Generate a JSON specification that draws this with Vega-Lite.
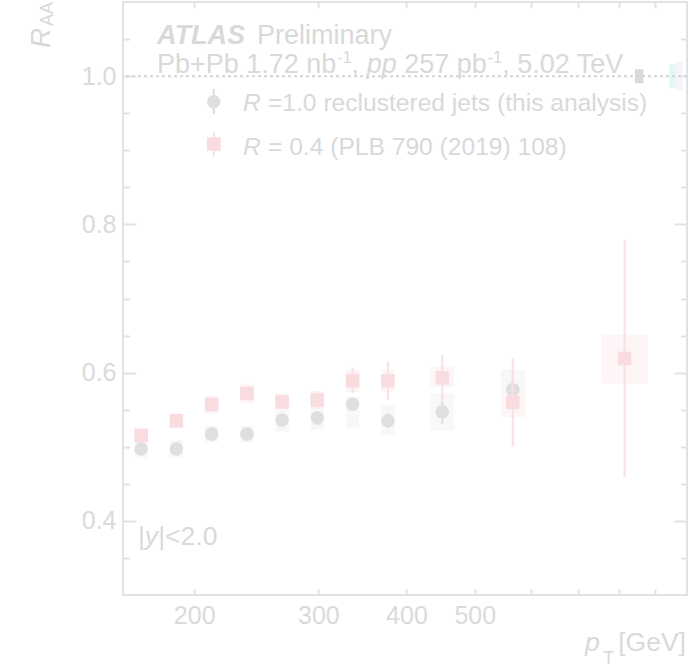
{
  "$schema": "https://vega.github.io/schema/vega-lite/v6.json",
  "width": 564,
  "height": 593,
  "autosize": {"type": "none"},
  "padding": {"left": 123, "top": 2, "right": 3, "bottom": 73},
  "background": "white",
  "config": {
    "view": {"stroke": "#e2e2e2", "strokeWidth": 2},
    "axis": {
      "domain": false,
      "grid": false,
      "labelFont": "Liberation Sans",
      "labelFontSize": 25,
      "labelColor": "#dadada",
      "tickColor": "#e2e2e2",
      "tickWidth": 2,
      "labelFlush": false,
      "labelOverlap": false
    },
    "text": {"font": "Liberation Sans", "color": "#d9d9d9", "align": "left", "baseline": "alphabetic"}
  },
  "datasets": {
    "reclustered": [
      {"pt": 168.2, "blo": 164.66, "bhi": 171.82, "raa": 0.497, "elo": 0.493, "ehi": 0.501, "slo": 0.485, "shi": 0.509},
      {"pt": 188.7, "blo": 184.73, "bhi": 192.76, "raa": 0.497, "elo": 0.493, "ehi": 0.501, "slo": 0.485, "shi": 0.509},
      {"pt": 211.7, "blo": 207.24, "bhi": 216.25, "raa": 0.517, "elo": 0.513, "ehi": 0.521, "slo": 0.506, "shi": 0.528},
      {"pt": 237.6, "blo": 232.6, "bhi": 242.71, "raa": 0.517, "elo": 0.513, "ehi": 0.521, "slo": 0.506, "shi": 0.528},
      {"pt": 266.5, "blo": 260.89, "bhi": 272.23, "raa": 0.536, "elo": 0.532, "ehi": 0.54, "slo": 0.52, "shi": 0.552},
      {"pt": 299.0, "blo": 292.71, "bhi": 305.43, "raa": 0.539, "elo": 0.535, "ehi": 0.543, "slo": 0.523, "shi": 0.552},
      {"pt": 335.5, "blo": 328.44, "bhi": 342.71, "raa": 0.5575, "elo": 0.553, "ehi": 0.562, "slo": 0.526, "shi": 0.567},
      {"pt": 376.5, "blo": 368.58, "bhi": 384.59, "raa": 0.535, "elo": 0.525, "ehi": 0.545, "slo": 0.516, "shi": 0.556},
      {"pt": 449.6, "blo": 432.31, "bhi": 467.58, "raa": 0.547, "elo": 0.531, "ehi": 0.561, "slo": 0.522, "shi": 0.572},
      {"pt": 566.1, "blo": 544.33, "bhi": 588.74, "raa": 0.577, "elo": 0.557, "ehi": 0.597, "slo": 0.547, "shi": 0.604}
    ],
    "r04": [
      {"pt": 168.2, "blo": 164.66, "bhi": 171.82, "raa": 0.515, "elo": 0.511, "ehi": 0.519, "slo": 0.505, "shi": 0.525},
      {"pt": 188.7, "blo": 184.73, "bhi": 192.76, "raa": 0.535, "elo": 0.531, "ehi": 0.539, "slo": 0.525, "shi": 0.545},
      {"pt": 211.7, "blo": 207.24, "bhi": 216.25, "raa": 0.557, "elo": 0.553, "ehi": 0.561, "slo": 0.545, "shi": 0.569},
      {"pt": 237.6, "blo": 232.6, "bhi": 242.71, "raa": 0.572, "elo": 0.568, "ehi": 0.576, "slo": 0.559, "shi": 0.585},
      {"pt": 266.5, "blo": 260.89, "bhi": 272.23, "raa": 0.5605, "elo": 0.556, "ehi": 0.565, "slo": 0.549, "shi": 0.572},
      {"pt": 299.0, "blo": 292.71, "bhi": 305.43, "raa": 0.563, "elo": 0.551, "ehi": 0.575, "slo": 0.551, "shi": 0.575},
      {"pt": 335.5, "blo": 328.44, "bhi": 342.71, "raa": 0.589, "elo": 0.572, "ehi": 0.607, "slo": 0.574, "shi": 0.604},
      {"pt": 376.5, "blo": 368.58, "bhi": 384.59, "raa": 0.589, "elo": 0.563, "ehi": 0.615, "slo": 0.574, "shi": 0.604},
      {"pt": 449.6, "blo": 432.31, "bhi": 467.58, "raa": 0.593, "elo": 0.561, "ehi": 0.624, "slo": 0.581, "shi": 0.608},
      {"pt": 566.1, "blo": 544.33, "bhi": 588.74, "raa": 0.56, "elo": 0.5, "ehi": 0.619, "slo": 0.54, "shi": 0.576},
      {"pt": 815.5, "blo": 755.79, "bhi": 879.93, "raa": 0.619, "elo": 0.459, "ehi": 0.779, "slo": 0.585, "shi": 0.651}
    ],
    "normalisation": [
      {"source": "R=1.0 normalisation", "lo": 843.8, "hi": 866.9, "ylo": 0.9904, "yhi": 1.0093},
      {"source": "TAA", "lo": 944.0, "hi": 965.0, "ylo": 0.9836, "yhi": 1.0164},
      {"source": "luminosity", "lo": 965.0, "hi": 986.1, "ylo": 0.9813, "yhi": 1.0195}
    ],
    "legend": [
      {"series": "R=1.0", "pt": 213.2, "raa": 0.9655, "elo": 0.9489, "ehi": 0.9826},
      {"series": "R=0.4", "pt": 213.2, "raa": 0.9084, "elo": 0.8913, "ehi": 0.925}
    ]
  },
  "resolve": {"axis": {"x": "independent", "y": "independent"}},
  "layer": [
    {
      "data": {"name": "normalisation"},
      "mark": {"type": "rect"},
      "encoding": {
        "x": {"field": "lo", "type": "quantitative", "scale": {"type": "log", "domain": [158.5, 1000], "nice": false}, "axis": null},
        "x2": {"field": "hi"},
        "y": {"field": "ylo", "type": "quantitative", "scale": {"domain": [0.3, 1.1], "nice": false, "zero": false}, "axis": null},
        "y2": {"field": "yhi"},
        "color": {"field": "source", "type": "nominal", "scale": {"domain": ["R=1.0 normalisation", "TAA", "luminosity"], "range": ["#dadada", "#e3f7f7", "#f5f3fc"]}, "legend": null}
      }
    },
    {
      "data": {"values": [{}]},
      "mark": {"type": "rule", "color": "#d4d4d4", "strokeWidth": 2, "strokeDash": [3, 3]},
      "encoding": {
        "y": {"datum": 1.0, "type": "quantitative", "scale": {"domain": [0.3, 1.1], "nice": false, "zero": false}, "axis": null}
      }
    },
    {
      "data": {"name": "reclustered"},
      "mark": {"type": "rect", "color": "#f8f8f8"},
      "encoding": {
        "x": {"field": "blo", "type": "quantitative", "scale": {"type": "log", "domain": [158.5, 1000], "nice": false},
              "axis": {"orient": "bottom", "values": [200, 300, 400, 500, 600, 700, 800, 900], "tickSize": -6, "labelPadding": 14,
                       "labelExpr": "datum.value <= 500 ? format(datum.value, 'd') : ''", "title": null}},
        "x2": {"field": "bhi"},
        "y": {"field": "slo", "type": "quantitative", "scale": {"domain": [0.3, 1.1], "nice": false, "zero": false},
              "axis": {"orient": "left", "values": [0.4, 0.6, 0.8, 1.0], "tickSize": -13, "labelPadding": 20, "format": ".1f", "title": null}},
        "y2": {"field": "shi"}
      }
    },
    {
      "data": {"name": "r04"},
      "mark": {"type": "rect", "color": "#fdf5f6"},
      "encoding": {
        "x": {"field": "blo", "type": "quantitative", "scale": {"type": "log", "domain": [158.5, 1000], "nice": false},
              "axis": {"orient": "top", "values": [200, 300, 400, 500, 600, 700, 800, 900], "tickSize": -6, "labels": false, "title": null}},
        "x2": {"field": "bhi"},
        "y": {"field": "slo", "type": "quantitative", "scale": {"domain": [0.3, 1.1], "nice": false, "zero": false},
              "axis": {"orient": "right", "values": [0.4, 0.6, 0.8, 1.0], "tickSize": -13, "labels": false, "title": null}},
        "y2": {"field": "shi"}
      }
    },
    {
      "data": {"name": "reclustered"},
      "mark": {"type": "rule", "color": "#dcdcdc", "strokeWidth": 2},
      "encoding": {
        "x": {"field": "pt", "type": "quantitative", "scale": {"type": "log", "domain": [158.5, 1000], "nice": false}, "axis": null},
        "y": {"field": "elo", "type": "quantitative", "scale": {"domain": [0.3, 1.1], "nice": false, "zero": false},
              "axis": {"orient": "left", "values": [0.35, 0.45, 0.5, 0.55, 0.65, 0.7, 0.75, 0.85, 0.9, 0.95, 1.05], "tickSize": -6.5, "labels": false, "title": null}},
        "y2": {"field": "ehi"}
      }
    },
    {
      "data": {"name": "reclustered"},
      "mark": {"type": "point", "shape": "circle", "filled": true, "size": 185, "color": "#dfdfdf", "opacity": 1},
      "encoding": {
        "x": {"field": "pt", "type": "quantitative", "scale": {"type": "log", "domain": [158.5, 1000], "nice": false}, "axis": null},
        "y": {"field": "raa", "type": "quantitative", "scale": {"domain": [0.3, 1.1], "nice": false, "zero": false}, "axis": null}
      }
    },
    {
      "data": {"name": "r04"},
      "mark": {"type": "rule", "color": "#f8e0e3", "strokeWidth": 2},
      "encoding": {
        "x": {"field": "pt", "type": "quantitative", "scale": {"type": "log", "domain": [158.5, 1000], "nice": false}, "axis": null},
        "y": {"field": "elo", "type": "quantitative", "scale": {"domain": [0.3, 1.1], "nice": false, "zero": false},
              "axis": {"orient": "right", "values": [0.35, 0.45, 0.5, 0.55, 0.65, 0.7, 0.75, 0.85, 0.9, 0.95, 1.05], "tickSize": -6.5, "labels": false, "title": null}},
        "y2": {"field": "ehi"}
      }
    },
    {
      "data": {"name": "r04"},
      "mark": {"type": "point", "shape": "square", "filled": true, "size": 185, "color": "#f9dcdf", "opacity": 1},
      "encoding": {
        "x": {"field": "pt", "type": "quantitative", "scale": {"type": "log", "domain": [158.5, 1000], "nice": false}, "axis": null},
        "y": {"field": "raa", "type": "quantitative", "scale": {"domain": [0.3, 1.1], "nice": false, "zero": false}, "axis": null}
      }
    },
    {
      "data": {"name": "legend"},
      "transform": [{"filter": "datum.series == 'R=1.0'"}],
      "mark": {"type": "rule", "color": "#dcdcdc", "strokeWidth": 2},
      "encoding": {
        "x": {"field": "pt", "type": "quantitative", "scale": {"type": "log", "domain": [158.5, 1000], "nice": false}, "axis": null},
        "y": {"field": "elo", "type": "quantitative", "scale": {"domain": [0.3, 1.1], "nice": false, "zero": false}, "axis": null},
        "y2": {"field": "ehi"}
      }
    },
    {
      "data": {"name": "legend"},
      "transform": [{"filter": "datum.series == 'R=1.0'"}],
      "mark": {"type": "point", "shape": "circle", "filled": true, "size": 185, "color": "#dfdfdf", "opacity": 1},
      "encoding": {
        "x": {"field": "pt", "type": "quantitative", "scale": {"type": "log", "domain": [158.5, 1000], "nice": false}, "axis": null},
        "y": {"field": "raa", "type": "quantitative", "scale": {"domain": [0.3, 1.1], "nice": false, "zero": false}, "axis": null}
      }
    },
    {
      "data": {"name": "legend"},
      "transform": [{"filter": "datum.series == 'R=0.4'"}],
      "mark": {"type": "rule", "color": "#f8e0e3", "strokeWidth": 2},
      "encoding": {
        "x": {"field": "pt", "type": "quantitative", "scale": {"type": "log", "domain": [158.5, 1000], "nice": false}, "axis": null},
        "y": {"field": "elo", "type": "quantitative", "scale": {"domain": [0.3, 1.1], "nice": false, "zero": false}, "axis": null},
        "y2": {"field": "ehi"}
      }
    },
    {
      "data": {"name": "legend"},
      "transform": [{"filter": "datum.series == 'R=0.4'"}],
      "mark": {"type": "point", "shape": "square", "filled": true, "size": 185, "color": "#f9dcdf", "opacity": 1},
      "encoding": {
        "x": {"field": "pt", "type": "quantitative", "scale": {"type": "log", "domain": [158.5, 1000], "nice": false}, "axis": null},
        "y": {"field": "raa", "type": "quantitative", "scale": {"domain": [0.3, 1.1], "nice": false, "zero": false}, "axis": null}
      }
    },
    {
      "data": {"values": [{}]},
      "mark": {"type": "text", "text": "ATLAS", "fontSize": 27, "fontWeight": "bold", "fontStyle": "italic"},
      "encoding": {
        "x": {"datum": 177.06, "type": "quantitative", "scale": {"type": "log", "domain": [158.5, 1000], "nice": false}, "axis": null},
        "y": {"datum": 1.0433, "type": "quantitative", "scale": {"domain": [0.3, 1.1], "nice": false, "zero": false}, "axis": null}
      }
    },
    {
      "data": {"values": [{}]},
      "mark": {"type": "text", "text": "Preliminary", "fontSize": 27},
      "encoding": {
        "x": {"datum": 245.5, "type": "quantitative", "scale": {"type": "log", "domain": [158.5, 1000], "nice": false}, "axis": null},
        "y": {"datum": 1.0433, "type": "quantitative", "scale": {"domain": [0.3, 1.1], "nice": false, "zero": false}, "axis": null}
      }
    },
    {
      "data": {"values": [{}]},
      "mark": {"type": "text", "text": "Pb+Pb 1.72 nb", "fontSize": 27},
      "encoding": {
        "x": {"datum": 177.06, "type": "quantitative", "scale": {"type": "log", "domain": [158.5, 1000], "nice": false}, "axis": null},
        "y": {"datum": 1.0042, "type": "quantitative", "scale": {"domain": [0.3, 1.1], "nice": false, "zero": false}, "axis": null}
      }
    },
    {
      "data": {"values": [{}]},
      "mark": {"type": "text", "text": "-1", "fontSize": 16.5},
      "encoding": {
        "x": {"datum": 318.8, "type": "quantitative", "scale": {"type": "log", "domain": [158.5, 1000], "nice": false}, "axis": null},
        "y": {"datum": 1.0172, "type": "quantitative", "scale": {"domain": [0.3, 1.1], "nice": false, "zero": false}, "axis": null}
      }
    },
    {
      "data": {"values": [{}]},
      "mark": {"type": "text", "text": ",", "fontSize": 27},
      "encoding": {
        "x": {"datum": 334.4, "type": "quantitative", "scale": {"type": "log", "domain": [158.5, 1000], "nice": false}, "axis": null},
        "y": {"datum": 1.0042, "type": "quantitative", "scale": {"domain": [0.3, 1.1], "nice": false, "zero": false}, "axis": null}
      }
    },
    {
      "data": {"values": [{}]},
      "mark": {"type": "text", "text": "pp", "fontSize": 27, "fontStyle": "italic"},
      "encoding": {
        "x": {"datum": 351.3, "type": "quantitative", "scale": {"type": "log", "domain": [158.5, 1000], "nice": false}, "axis": null},
        "y": {"datum": 1.0042, "type": "quantitative", "scale": {"domain": [0.3, 1.1], "nice": false, "zero": false}, "axis": null}
      }
    },
    {
      "data": {"values": [{}]},
      "mark": {"type": "text", "text": "257 pb", "fontSize": 27},
      "encoding": {
        "x": {"datum": 397.0, "type": "quantitative", "scale": {"type": "log", "domain": [158.5, 1000], "nice": false}, "axis": null},
        "y": {"datum": 1.0042, "type": "quantitative", "scale": {"domain": [0.3, 1.1], "nice": false, "zero": false}, "axis": null}
      }
    },
    {
      "data": {"values": [{}]},
      "mark": {"type": "text", "text": "-1", "fontSize": 16.5},
      "encoding": {
        "x": {"datum": 521.3, "type": "quantitative", "scale": {"type": "log", "domain": [158.5, 1000], "nice": false}, "axis": null},
        "y": {"datum": 1.0172, "type": "quantitative", "scale": {"domain": [0.3, 1.1], "nice": false, "zero": false}, "axis": null}
      }
    },
    {
      "data": {"values": [{}]},
      "mark": {"type": "text", "text": ", 5.02 TeV", "fontSize": 27},
      "encoding": {
        "x": {"datum": 546.9, "type": "quantitative", "scale": {"type": "log", "domain": [158.5, 1000], "nice": false}, "axis": null},
        "y": {"datum": 1.0042, "type": "quantitative", "scale": {"domain": [0.3, 1.1], "nice": false, "zero": false}, "axis": null}
      }
    },
    {
      "data": {"values": [{}]},
      "mark": {"type": "text", "text": "R", "fontSize": 24.6, "fontStyle": "italic"},
      "encoding": {
        "x": {"datum": 234.6, "type": "quantitative", "scale": {"type": "log", "domain": [158.5, 1000], "nice": false}, "axis": null},
        "y": {"datum": 0.953, "type": "quantitative", "scale": {"domain": [0.3, 1.1], "nice": false, "zero": false}, "axis": null}
      }
    },
    {
      "data": {"values": [{}]},
      "mark": {"type": "text", "text": "=1.0 reclustered jets (this analysis)", "fontSize": 24.6},
      "encoding": {
        "x": {"datum": 254.5, "type": "quantitative", "scale": {"type": "log", "domain": [158.5, 1000], "nice": false}, "axis": null},
        "y": {"datum": 0.953, "type": "quantitative", "scale": {"domain": [0.3, 1.1], "nice": false, "zero": false}, "axis": null}
      }
    },
    {
      "data": {"values": [{}]},
      "mark": {"type": "text", "text": "R", "fontSize": 24.6, "fontStyle": "italic"},
      "encoding": {
        "x": {"datum": 234.6, "type": "quantitative", "scale": {"type": "log", "domain": [158.5, 1000], "nice": false}, "axis": null},
        "y": {"datum": 0.8936, "type": "quantitative", "scale": {"domain": [0.3, 1.1], "nice": false, "zero": false}, "axis": null}
      }
    },
    {
      "data": {"values": [{}]},
      "mark": {"type": "text", "text": "= 0.4 (PLB 790 (2019) 108)", "fontSize": 24.6},
      "encoding": {
        "x": {"datum": 254.5, "type": "quantitative", "scale": {"type": "log", "domain": [158.5, 1000], "nice": false}, "axis": null},
        "y": {"datum": 0.8936, "type": "quantitative", "scale": {"domain": [0.3, 1.1], "nice": false, "zero": false}, "axis": null}
      }
    },
    {
      "data": {"values": [{}]},
      "mark": {"type": "text", "text": "|", "fontSize": 26.5},
      "encoding": {
        "x": {"datum": 166.4, "type": "quantitative", "scale": {"type": "log", "domain": [158.5, 1000], "nice": false}, "axis": null},
        "y": {"datum": 0.3675, "type": "quantitative", "scale": {"domain": [0.3, 1.1], "nice": false, "zero": false}, "axis": null}
      }
    },
    {
      "data": {"values": [{}]},
      "mark": {"type": "text", "text": "y", "fontSize": 26.5, "fontStyle": "italic"},
      "encoding": {
        "x": {"datum": 170.2, "type": "quantitative", "scale": {"type": "log", "domain": [158.5, 1000], "nice": false}, "axis": null},
        "y": {"datum": 0.3675, "type": "quantitative", "scale": {"domain": [0.3, 1.1], "nice": false, "zero": false}, "axis": null}
      }
    },
    {
      "data": {"values": [{}]},
      "mark": {"type": "text", "text": "|<2.0", "fontSize": 26.5},
      "encoding": {
        "x": {"datum": 177.8, "type": "quantitative", "scale": {"type": "log", "domain": [158.5, 1000], "nice": false}, "axis": null},
        "y": {"datum": 0.3675, "type": "quantitative", "scale": {"domain": [0.3, 1.1], "nice": false, "zero": false}, "axis": null}
      }
    },
    {
      "data": {"values": [{}]},
      "mark": {"type": "text", "text": "[GeV]", "fontSize": 26.5, "align": "right"},
      "encoding": {
        "x": {"datum": 996.7, "type": "quantitative", "scale": {"type": "log", "domain": [158.5, 1000], "nice": false}, "axis": null},
        "y": {"datum": 0.2245, "type": "quantitative", "scale": {"domain": [0.3, 1.1], "nice": false, "zero": false}, "axis": null}
      }
    },
    {
      "data": {"values": [{}]},
      "mark": {"type": "text", "text": "p", "fontSize": 26.5, "fontStyle": "italic"},
      "encoding": {
        "x": {"datum": 716.5, "type": "quantitative", "scale": {"type": "log", "domain": [158.5, 1000], "nice": false}, "axis": null},
        "y": {"datum": 0.2245, "type": "quantitative", "scale": {"domain": [0.3, 1.1], "nice": false, "zero": false}, "axis": null}
      }
    },
    {
      "data": {"values": [{}]},
      "mark": {"type": "text", "text": "T", "fontSize": 18},
      "encoding": {
        "x": {"datum": 760.0, "type": "quantitative", "scale": {"type": "log", "domain": [158.5, 1000], "nice": false}, "axis": null},
        "y": {"datum": 0.2069, "type": "quantitative", "scale": {"domain": [0.3, 1.1], "nice": false, "zero": false}, "axis": null}
      }
    },
    {
      "data": {"values": [{}]},
      "mark": {"type": "text", "text": "R", "fontSize": 28, "fontStyle": "italic", "angle": 270},
      "encoding": {
        "x": {"datum": 124.9, "type": "quantitative", "scale": {"type": "log", "domain": [158.5, 1000], "nice": false}, "axis": null},
        "y": {"datum": 1.0379, "type": "quantitative", "scale": {"domain": [0.3, 1.1], "nice": false, "zero": false}, "axis": null}
      }
    },
    {
      "data": {"values": [{}]},
      "mark": {"type": "text", "text": "AA", "fontSize": 18, "angle": 270},
      "encoding": {
        "x": {"datum": 126.1, "type": "quantitative", "scale": {"type": "log", "domain": [158.5, 1000], "nice": false}, "axis": null},
        "y": {"datum": 1.0676, "type": "quantitative", "scale": {"domain": [0.3, 1.1], "nice": false, "zero": false}, "axis": null}
      }
    }
  ]
}
